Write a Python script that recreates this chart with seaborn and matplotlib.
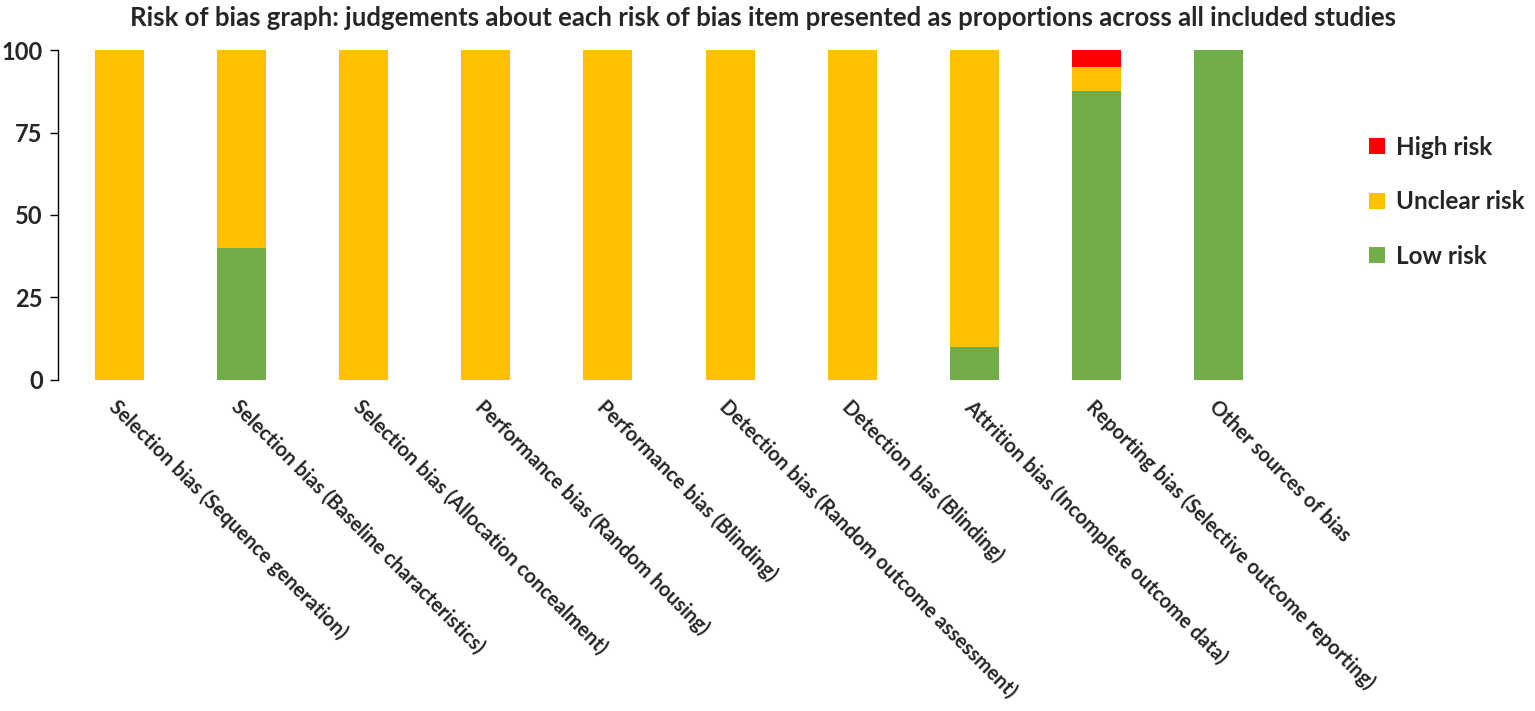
import numpy as np
import pandas as pd
import matplotlib
matplotlib.use("Agg")
import matplotlib.pyplot as plt
import seaborn as sns

categories = [
    "Selection bias (Sequence generation)",
    "Selection bias (Baseline characteristics)",
    "Selection bias (Allocation concealment)",
    "Performance bias (Random housing)",
    "Performance bias (Blinding)",
    "Detection bias (Random outcome assessment)",
    "Detection bias (Blinding)",
    "Attrition bias (Incomplete outcome data)",
    "Reporting bias (Selective outcome reporting)",
    "Other sources of bias",
]
low_risk = [0, 40, 0, 0, 0, 0, 0, 10, 87.5, 100]
unclear_risk = [100, 60, 100, 100, 100, 100, 100, 90, 7.5, 0]
high_risk = [0, 0, 0, 0, 0, 0, 0, 0, 5, 0]

sns.set_theme(style="white")
plt.rcParams["font.family"] = ["Lato", "DejaVu Sans"]

df = pd.DataFrame({
    "item": categories,
    "low": low_risk,
    "unclear": unclear_risk,
    "high": high_risk,
})
df["low_unclear"] = df["low"] + df["unclear"]
df["total"] = df["low_unclear"] + df["high"]

fig = plt.figure(figsize=(15.35, 7.11), dpi=100)
ax = fig.add_axes([58 / 1535, 1 - 380 / 711, (1280 - 58) / 1535, 330 / 711])

# stacked bars drawn back to front
sns.barplot(data=df, x="item", y="total", color="#FF0000", width=0.4,
            saturation=1, linewidth=0, ax=ax, label="High risk")
sns.barplot(data=df, x="item", y="low_unclear", color="#FFC000", width=0.4,
            saturation=1, linewidth=0, ax=ax, label="Unclear risk")
sns.barplot(data=df, x="item", y="low", color="#70AD47", width=0.4,
            saturation=1, linewidth=0, ax=ax, label="Low risk")

ax.set_xlim(-0.5, len(categories) - 0.5)
ax.set_ylim(0, 100)
ax.set_yticks([0, 25, 50, 75, 100])
ax.set_xlabel("")
ax.set_ylabel("")
for s in ["top", "right", "bottom"]:
    ax.spines[s].set_visible(False)
ax.spines["left"].set_color("#000000")
ax.spines["left"].set_linewidth(1.0)
ax.tick_params(axis="y", which="major", left=True, direction="out", length=6,
               width=1, color="#000000", labelsize=17, pad=5)
ax.tick_params(axis="x", length=0, pad=12)
for lbl in ax.get_yticklabels():
    lbl.set_fontweight("bold")
ax.set_xticks(range(len(categories)))
ax.set_xticklabels(categories, rotation=-45, ha="left", va="top",
                   rotation_mode="anchor", fontsize=14.5, fontweight="bold")

ax.legend(loc="center left", bbox_to_anchor=(1.055, 0.54), frameon=False,
          prop={"size": 17.5, "weight": "bold"}, handlelength=0.65,
          handleheight=0.65, handletextpad=0.45, labelspacing=1.3)

fig.suptitle("Risk of bias graph: judgements about each risk of bias item presented as proportions across all included studies",
             x=0.497, y=0.992, fontsize=18.5, fontweight="bold")

fig.savefig("out.png", dpi=100)
